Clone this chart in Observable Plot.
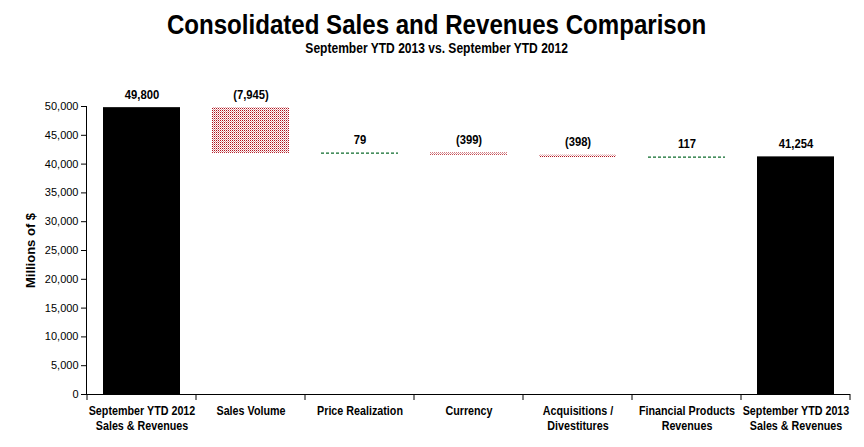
<!DOCTYPE html>
<html>
<head>
<meta charset="utf-8">
<script src="https://cdn.jsdelivr.net/npm/d3@7"></script>
<script src="https://cdn.jsdelivr.net/npm/@observablehq/plot@0.6"></script>
<style>
  body { margin: 0; background: #fff; width: 864px; height: 447px; overflow: hidden; }
  .hfont { font-family: "Liberation Sans", Arial, sans-serif; }
  #header { height: 58px; text-align: center; padding-left: 10px; box-sizing: border-box; }
  #title { font-size: 28px; font-weight: bold; line-height: 30px; padding-top: 10px; }
  #subtitle { font-size: 14px; font-weight: bold; line-height: 16px; margin-top: 0px; }
  #title span, #subtitle span { display: inline-block; white-space: nowrap; }
  #title span { transform: scaleX(0.86); }
  #subtitle span { transform: scaleX(0.86); }
  #chart svg { display: block; }
</style>
</head>
<body>
<div id="header" class="hfont">
  <div id="title"><span>Consolidated Sales and Revenues Comparison</span></div>
  <div id="subtitle"><span>September YTD 2013 vs. September YTD 2012</span></div>
</div>
<div id="chart"></div>
<script>
const categories = [
  "September YTD 2012\nSales & Revenues",
  "Sales Volume",
  "Price Realization",
  "Currency",
  "Acquisitions /\nDivestitures",
  "Financial Products\nRevenues",
  "September YTD 2013\nSales & Revenues"
];
const values = [49800, -7945, 79, -399, -398, 117, 41254];
const kinds = ["total", "change", "change", "change", "change", "change", "total"];
const valueLabels = ["49,800", "(7,945)", "79", "(399)", "(398)", "117", "41,254"];
const yTicks = [0, 5000, 10000, 15000, 20000, 25000, 30000, 35000, 40000, 45000, 50000];

// build waterfall table
let running = 0;
const data = categories.map((c, i) => {
  let y1, y2;
  if (kinds[i] === "total") { y1 = 0; y2 = values[i]; running = values[i]; }
  else { y1 = running; y2 = running + values[i]; running = y2; }
  return { cat: c, kind: kinds[i], value: values[i], y1, y2, top: Math.max(y1, y2), mid: (y1 + y2) / 2, label: valueLabels[i] };
});
const totals = data.filter(d => d.kind === "total");
const negs = data.filter(d => d.kind === "change" && d.value < 0);
const poss = data.filter(d => d.kind === "change" && d.value >= 0);

const W = 864, H = 447 - 58;

const boundaryTicks = (index, scales, values, dims) => {
  const x = scales.x;
  const xs = categories.map(c => x(c));
  const step = xs[1] - xs[0];
  xs.push(xs[xs.length - 1] + step);
  const g = d3.create("svg:g");
  const yb = dims.height - dims.marginBottom;
  g.selectAll("line").data(xs).join("line")
    .attr("x1", d => d).attr("x2", d => d)
    .attr("y1", yb).attr("y2", yb + 6)
    .attr("stroke", "#000");
  return g.node();
};

const svg = Plot.plot({
  width: W,
  height: H,
  marginLeft: 86,
  marginRight: 14,
  marginTop: 48,
  marginBottom: 53,
  style: { fontFamily: "Liberation Sans, Arial, sans-serif", fontSize: "11px", color: "#000", background: "#fff" },
  x: { domain: categories, padding: 0, label: null },
  y: { domain: [0, 50000], label: null },
  marks: [
    Plot.rectY(totals, { x: "cat", y1: "y1", y2: "y2", fill: "#000", insetLeft: 16, insetRight: 16 }),
    Plot.rectY(negs, { x: "cat", y1: "y1", y2: "y2", fill: "url(#redDots)", insetLeft: 16, insetRight: 16 }),
    Plot.tickY(poss, { x: "cat", y: "mid", stroke: "#0b6b2b", strokeWidth: 1.3, strokeDasharray: "3,2", insetLeft: 16, insetRight: 16 }),
    Plot.text(data, { x: "cat", y: "top", text: "label", dy: -13, fontWeight: "bold", fontSize: 12.5, fill: "#000", className: "vlabel" }),
    Plot.axisY({ ticks: yTicks, tickFormat: d3.format(","), tickSize: 5, tickPadding: 3, fontSize: 11 }),
    Plot.axisY({ ticks: [], label: "Millions of $", labelArrow: "none", labelAnchor: "center", labelOffset: 61, fontSize: 13, fontWeight: "bold" }),
    Plot.axisX({ tickSize: 0, tickPadding: 9, fontSize: 12.5, fontWeight: "bold", lineHeight: 1.25, label: null, className: "xlab" }),
    Plot.ruleY([0], { stroke: "#000" }),
    Plot.frame({ anchor: "left", stroke: "#000" }),
    boundaryTicks
  ]
});

// pattern definitions
const defs = d3.select(svg).insert("defs", ":first-child");
const p = defs.append("pattern").attr("id", "redDots").attr("patternUnits", "userSpaceOnUse")
  .attr("width", 2).attr("height", 2);
p.append("rect").attr("width", 2).attr("height", 2).attr("fill", "#fff");
p.append("rect").attr("x", 0).attr("y", 0).attr("width", 1).attr("height", 1).attr("fill", "#b0101c");
p.append("rect").attr("x", 1).attr("y", 1).attr("width", 1).attr("height", 1).attr("fill", "#dc9ca0");

const root = d3.select(svg);
root.selectAll('[aria-label="y-axis label"] text')
  .attr("font-weight", "bold").attr("font-size", 13)
  .each(function () { this.textContent = this.textContent.replace(/[↑→↓←]/g, "").trim(); });

// condense the narrow-style labels horizontally
function condense(sel, k) {
  sel.each(function () {
    const t = this.getAttribute("transform") || "";
    this.setAttribute("transform", (t + ` scale(${k},1)`).trim());
  });
}
condense(root.selectAll('[aria-label="x-axis tick label"] text'), 0.86);
condense(root.selectAll('.vlabel text'), 0.9);

document.getElementById("chart").appendChild(svg);
</script>
</body>
</html>
